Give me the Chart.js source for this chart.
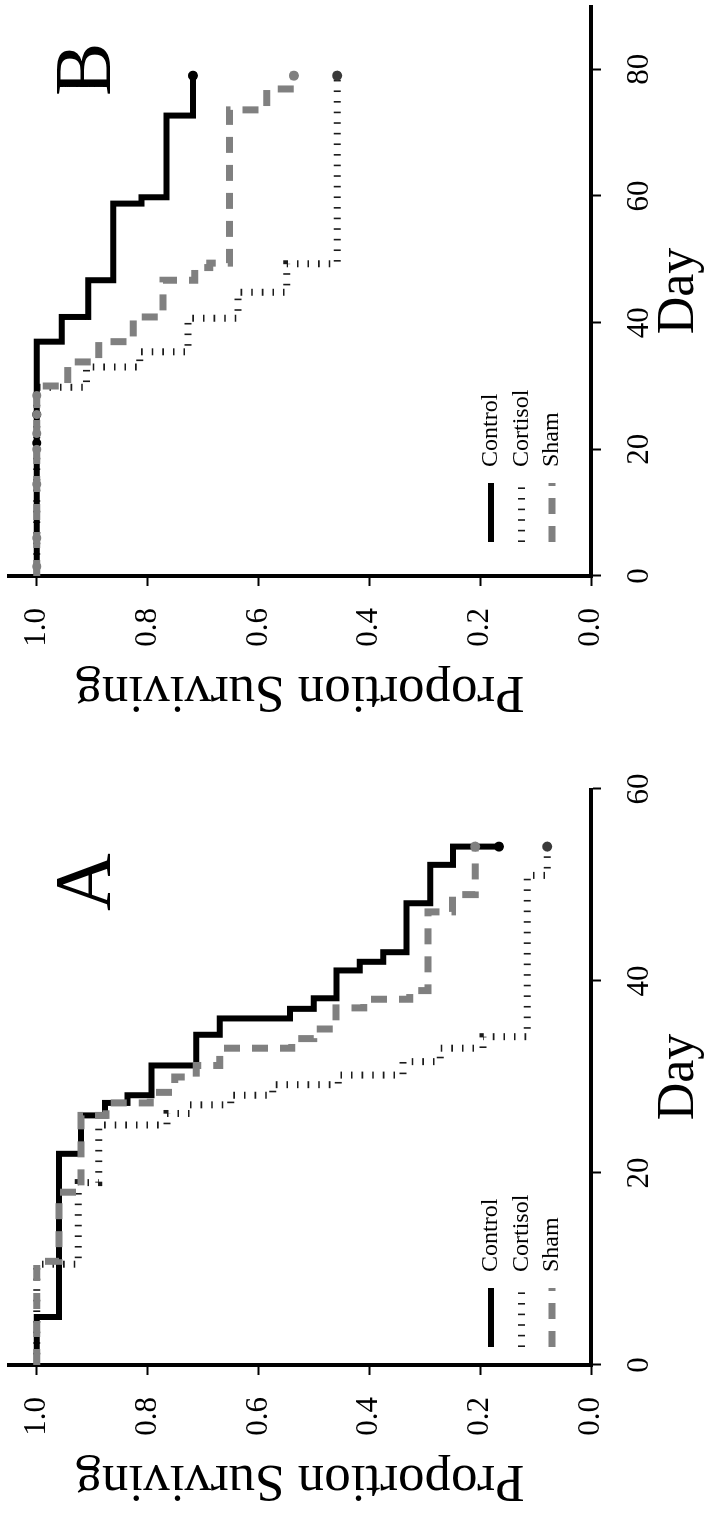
<!DOCTYPE html>
<html>
<head>
<meta charset="utf-8">
<script src="https://cdn.jsdelivr.net/npm/chart.js"></script>
<style>
  html, body { margin: 0; padding: 0; background: #fff; overflow: hidden; }
  /* the figure is laid out landscape and turned a quarter turn to the left */
  #page { position: absolute; left: 0; top: 0; width: 1514px; height: 718px;
          transform-origin: 0 0; transform: translateY(1514px) rotate(-90deg); background: #fff; }
  #chartA { position: absolute; left: 0; top: 0; }
  #chartB { position: absolute; left: 789px; top: 0; }
</style>
</head>
<body>
<div id="page">
  <canvas id="chartA" width="757" height="718"></canvas>
  <canvas id="chartB" width="725" height="718"></canvas>
</div>
<script>
// Panel A
const controlADays   = [0, 5, 22, 26, 27.3, 28.1, 31.2, 34.4, 36.1, 37.1, 38.2, 41.1, 42, 43, 48.1, 52.1, 54];
const controlAValues = [1, 0.96, 0.92, 0.877, 0.836, 0.793, 0.712, 0.67, 0.543, 0.50, 0.459, 0.417, 0.375, 0.333, 0.29, 0.249, 0.166];
const cortisolADays   = [0, 10.5, 19, 25, 26.2, 27.1, 28.1, 29.2, 30.2, 31.6, 33, 34.2, 51, 54];
const cortisolAValues = [1, 0.925, 0.888, 0.765, 0.724, 0.65, 0.574, 0.456, 0.339, 0.272, 0.195, 0.115, 0.079, 0.079];
const shamADays   = [0, 10.8, 18, 26, 27.3, 28.4, 30, 31.2, 33, 34, 35, 37.2, 38.1, 39, 47.2, 49, 54];
const shamAValues = [1, 0.96, 0.92, 0.875, 0.795, 0.751, 0.712, 0.67, 0.54, 0.50, 0.46, 0.41, 0.327, 0.294, 0.25, 0.209, 0.209];

// Panel B
const controlBDays   = [0, 37, 40.9, 46.7, 58.8, 59.8, 72.7, 79];
const controlBValues = [1, 0.955, 0.907, 0.862, 0.811, 0.766, 0.718, 0.718];
const cortisolBDays   = [0, 29.8, 33, 35.4, 40.7, 44.8, 49.3, 79];
const cortisolBValues = [1, 0.91, 0.814, 0.727, 0.637, 0.549, 0.458, 0.458];
const shamBDays   = [0, 30, 33.8, 37, 40.9, 46.7, 48.7, 49.4, 73.6, 76.9, 79];
const shamBValues = [1, 0.944, 0.888, 0.826, 0.772, 0.715, 0.688, 0.652, 0.585, 0.536, 0.536];
const shamBCensored    = [1.5, 6, 14.5, 20, 22.5, 25.5, 28.5];
const controlBCensored = [21, 25.5];

const yTicks = [0, 0.2, 0.4, 0.6, 0.8, 1.0];
const serif = '"Liberation Serif", "Times New Roman", serif';

const styles = {
  control:  { color: '#000000', width: 6, dash: [], dot: '#000000', order: 1 },
  cortisol: { color: '#1a1a1a', width: 7, dash: [1.6, 9], dot: '#3a3a3a', order: 2 },
  sham:     { color: '#808080', width: 7, dash: [16, 12], dot: '#808080', order: 0 },
};

function toPoints(days, values) {
  return days.map((d, i) => ({ x: d, y: values[i] }));
}

function valueAt(days, values, day) {
  let v = values[0];
  days.forEach((d, i) => { if (d <= day) v = values[i]; });
  return v;
}

function curve(label, days, values, st) {
  const last = days.length - 1;
  return {
    type: 'line',
    label: label,
    data: toPoints(days, values),
    stepped: 'before',
    borderColor: st.color,
    borderWidth: st.width,
    borderDash: st.dash,
    borderCapStyle: 'butt',
    borderJoinStyle: 'miter',
    fill: false,
    order: st.order,
    pointRadius: ctx => ctx.dataIndex === last ? 5 : 0,
    pointHoverRadius: 0,
    pointBackgroundColor: st.dot,
    pointBorderWidth: 0,
    inLegend: true,
  };
}

function censored(days, curveDays, curveValues, st) {
  return {
    type: 'scatter',
    data: days.map(d => ({ x: d, y: valueAt(curveDays, curveValues, d) })),
    showLine: false,
    order: st.order,
    pointRadius: 4.5,
    pointBackgroundColor: st.dot,
    pointBorderWidth: 0,
  };
}

// legend inside the plot and the panel letter
const panelDecor = {
  id: 'panelDecor',
  afterDatasetsDraw(chart, args, opts) {
    const { ctx, chartArea, scales } = chart;
    ctx.save();
    let y = chartArea.top + opts.legendTop;
    const x0 = chartArea.left + opts.legendLeft;
    chart.data.datasets.forEach(ds => {
      if (!ds.inLegend) return;
      ctx.beginPath();
      ctx.strokeStyle = ds.borderColor;
      ctx.lineWidth = ds.borderWidth;
      ctx.lineCap = 'butt';
      ctx.setLineDash(ds.borderDash);
      ctx.moveTo(x0, y);
      ctx.lineTo(x0 + 59, y);
      ctx.stroke();
      ctx.setLineDash([]);
      ctx.fillStyle = '#000';
      ctx.font = '24px ' + serif;
      ctx.textAlign = 'left';
      ctx.textBaseline = 'middle';
      ctx.fillText(ds.label, x0 + 75, y);
      y += 30.5;
    });
    ctx.font = '80px ' + serif;
    ctx.textAlign = 'center';
    ctx.textBaseline = 'alphabetic';
    ctx.fillStyle = '#000';
    ctx.fillText(opts.letter, scales.x.getPixelForValue(opts.letterDay), scales.y.getPixelForValue(opts.letterValue));
    ctx.restore();
  }
};

function makeChart(id, datasets, xMax, rightPad, decor) {
  return new Chart(document.getElementById(id), {
    data: { datasets: datasets },
    plugins: [panelDecor],
    options: {
      responsive: false,
      animation: false,
      events: [],
      layout: { padding: { top: 9, right: rightPad, left: 0, bottom: 0 } },
      plugins: {
        legend: { display: false },
        tooltip: { enabled: false },
        panelDecor: decor,
      },
      scales: {
        x: {
          type: 'linear',
          min: 0,
          max: xMax,
          afterFit: s => { s.height = 127; s.paddingLeft = 0; s.paddingRight = 0; },
          border: { display: true, color: '#000', width: 4 },
          grid: { drawOnChartArea: false, drawTicks: true, tickLength: 10, tickWidth: 2, tickColor: '#000' },
          ticks: { stepSize: 20, includeBounds: false, padding: 20, color: '#000', font: { family: serif, size: 31 } },
          title: { display: true, text: 'Day', color: '#000', font: { family: serif, size: 52 }, padding: { top: 0, bottom: 7 } },
        },
        y: {
          type: 'linear',
          min: 0,
          max: 1.05,
          afterFit: s => { s.width = 149; s.paddingTop = 0; s.paddingBottom = 0; },
          afterBuildTicks: s => { s.ticks = yTicks.map(v => ({ value: v })); },
          border: { display: true, color: '#000', width: 4 },
          grid: { drawOnChartArea: false, drawTicks: true, tickLength: 10, tickWidth: 2, tickColor: '#000' },
          ticks: { padding: 22, color: '#000', font: { family: serif, size: 31 }, callback: v => v.toFixed(1) },
          title: { display: true, text: 'Proportion Surviving', color: '#000', font: { family: serif, size: 53 }, padding: { top: 2, bottom: 0 } },
        },
      },
    },
  });
}

makeChart('chartA', [
  curve('Control', controlADays, controlAValues, styles.control),
  curve('Cortisol', cortisolADays, cortisolAValues, styles.cortisol),
  curve('Sham', shamADays, shamAValues, styles.sham),
], 60, 32, { legendLeft: 18, legendTop: 482, letter: 'A', letterDay: 50.3, letterValue: 0.868 });

makeChart('chartB', [
  curve('Control', controlBDays, controlBValues, styles.control),
  curve('Cortisol', cortisolBDays, cortisolBValues, styles.cortisol),
  curve('Sham', shamBDays, shamBValues, styles.sham),
  censored(shamBCensored, shamBDays, shamBValues, styles.sham),
  censored(controlBCensored, controlBDays, controlBValues, styles.control),
], 90, 6, { legendLeft: 34, legendTop: 482, letter: 'B', letterDay: 80, letterValue: 0.868 });
</script>
</body>
</html>
